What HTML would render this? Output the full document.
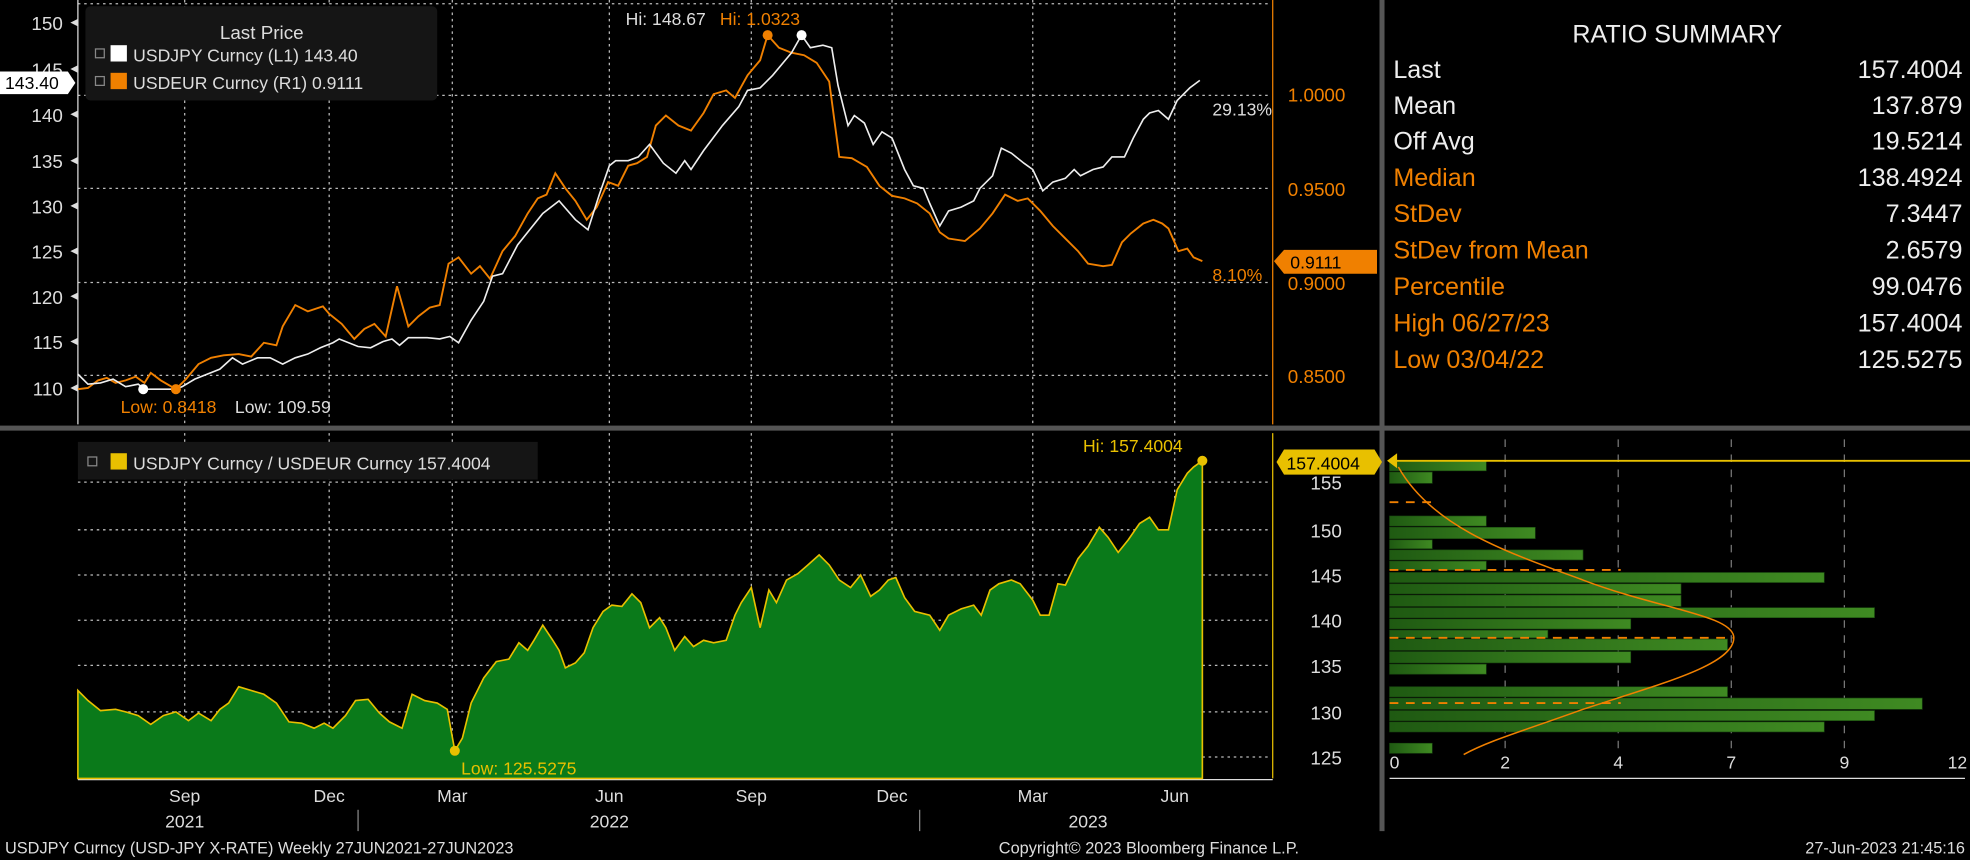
<!DOCTYPE html>
<html><head><meta charset="utf-8"><style>
html,body{margin:0;padding:0;background:#000;overflow:hidden}
svg{display:block}
text{font-family:"Liberation Sans",sans-serif}
</style></head><body>
<svg width="1970" height="860" viewBox="0 0 1568 685" preserveAspectRatio="none" xmlns="http://www.w3.org/2000/svg">
<rect width="1568" height="685" fill="#000"/>
<g stroke="#bbb" stroke-width="1" stroke-dasharray="2,3">
<line x1="62" y1="3" x2="1012" y2="3"/><line x1="62" y1="76" x2="1012" y2="76"/><line x1="62" y1="150" x2="1012" y2="150"/><line x1="62" y1="225" x2="1012" y2="225"/><line x1="62" y1="299" x2="1012" y2="299"/>
<line x1="147" y1="0" x2="147" y2="338"/><line x1="262" y1="0" x2="262" y2="338"/><line x1="360" y1="0" x2="360" y2="338"/><line x1="485" y1="0" x2="485" y2="338"/><line x1="598" y1="0" x2="598" y2="338"/><line x1="710" y1="0" x2="710" y2="338"/><line x1="822" y1="0" x2="822" y2="338"/><line x1="935" y1="0" x2="935" y2="338"/>
<line x1="62" y1="384" x2="1012" y2="384"/><line x1="62" y1="422" x2="1012" y2="422"/><line x1="62" y1="458" x2="1012" y2="458"/><line x1="62" y1="494" x2="1012" y2="494"/><line x1="62" y1="530" x2="1012" y2="530"/><line x1="62" y1="567" x2="1012" y2="567"/><line x1="62" y1="603" x2="1012" y2="603"/>
<line x1="147" y1="345" x2="147" y2="620"/><line x1="262" y1="345" x2="262" y2="620"/><line x1="360" y1="345" x2="360" y2="620"/><line x1="485" y1="345" x2="485" y2="620"/><line x1="598" y1="345" x2="598" y2="620"/><line x1="710" y1="345" x2="710" y2="620"/><line x1="822" y1="345" x2="822" y2="620"/><line x1="935" y1="345" x2="935" y2="620"/>
</g>
<line x1="62" y1="0" x2="62" y2="338" stroke="#ddd"/>
<g fill="#ddd"><polygon points="56,18 62,15 62,21"/><polygon points="56,55 62,52 62,58"/><polygon points="56,91 62,88 62,94"/><polygon points="56,128 62,125 62,131"/><polygon points="56,164 62,161 62,167"/><polygon points="56,200 62,197 62,203"/><polygon points="56,236 62,233 62,239"/><polygon points="56,272 62,269 62,275"/><polygon points="56,309 62,306 62,312"/></g>
<line x1="1013" y1="0" x2="1013" y2="338" stroke="#f08000"/>
<line x1="1013" y1="345" x2="1013" y2="620" stroke="#e8c000"/>
<line x1="62" y1="621" x2="1013" y2="621" stroke="#ddd"/>
<g fill="#ddd" font-size="15" text-anchor="end">
<text x="50" y="24">150</text><text x="50" y="61">145</text><text x="50" y="97">140</text><text x="50" y="134">135</text><text x="50" y="170">130</text><text x="50" y="206">125</text><text x="50" y="242">120</text><text x="50" y="278">115</text><text x="50" y="315">110</text>
</g>
<g fill="#f08000" font-size="15">
<text x="1025" y="81">1.0000</text><text x="1025" y="156">0.9500</text><text x="1025" y="231">0.9000</text><text x="1025" y="305">0.8500</text>
</g>
<g fill="#ddd" font-size="15">
<text x="1043" y="390">155</text><text x="1043" y="428">150</text><text x="1043" y="464">145</text><text x="1043" y="500">140</text><text x="1043" y="536">135</text><text x="1043" y="573">130</text><text x="1043" y="609">125</text>
</g>
<rect x="0" y="339" width="1568" height="4" fill="#555"/>
<rect x="1098" y="0" width="4" height="662" fill="#555"/>
<rect x="68" y="5" width="280" height="75" rx="4" fill="#151515"/>
<text x="175" y="31" fill="#ddd" font-size="15">Last Price</text>
<rect x="76" y="39" width="7" height="7" fill="none" stroke="#888"/><rect x="88" y="36" width="13" height="13" fill="#fff"/>
<text x="106" y="49" fill="#ddd" font-size="14">USDJPY Curncy  (L1)  143.40</text>
<rect x="76" y="61" width="7" height="7" fill="none" stroke="#888"/><rect x="88" y="58" width="13" height="13" fill="#f08000"/>
<text x="106" y="71" fill="#ddd" font-size="14">USDEUR Curncy  (R1)     0.9111</text>
<polyline fill="none" stroke="#f08000" stroke-width="1.5" points="62,310 70,309 78,303 85,301 92,305 100,303 108,300 115,305 120,297 128,303 140,310 148,302 158,290 168,285 178,283 190,282 200,284 210,273 220,275 225,260 235,243 245,248 257,244 262,250 272,258 282,270 290,262 298,258 307,268 316,228 325,260 333,252 342,245 350,243 357,210 365,205 375,218 382,212 390,222 400,200 410,188 420,170 428,158 435,155 442,138 450,150 458,160 467,175 475,165 484,145 492,148 500,132 507,130 515,125 522,100 530,92 540,100 550,104 560,90 568,75 578,72 585,78 595,60 605,48 611,28 620,38 630,42 640,44 650,50 660,65 668,125 678,126 690,133 700,148 710,156 720,158 730,162 740,170 748,185 755,190 768,192 780,182 790,170 800,155 810,160 818,158 828,168 838,180 848,190 858,200 866,210 878,212 885,211 893,193 900,186 910,178 918,175 925,178 930,182 938,200 945,198 950,205 957,208"/>
<polyline fill="none" stroke="#eee" stroke-width="1.3" points="62,298 70,306 80,305 90,302 100,308 110,306 115,310 140,310 145,308 155,302 165,298 175,294 185,285 193,290 205,285 215,285 225,290 235,285 245,282 255,277 265,273 270,270 285,276 295,277 305,272 312,270 318,275 325,269 340,269 350,270 358,268 365,273 375,255 385,240 392,220 400,218 412,195 420,185 432,170 445,160 458,175 468,183 477,155 485,132 490,128 500,128 508,125 517,115 528,130 538,138 545,128 550,135 560,120 575,100 588,85 595,72 605,70 615,60 625,48 630,42 638,28 645,38 655,36 662,38 667,68 675,100 680,92 688,98 695,115 702,105 710,110 720,135 727,148 735,150 740,162 748,180 755,168 765,165 775,160 780,150 790,140 797,118 805,122 815,130 822,135 830,152 838,145 848,142 855,135 860,140 870,135 878,133 885,125 895,125 902,110 910,95 915,90 922,88 930,95 937,80 947,70 955,64"/>
<circle cx="114" cy="310" r="4" fill="#fff"/><circle cx="140" cy="310" r="4" fill="#f08000"/>
<circle cx="611" cy="28" r="4" fill="#f08000"/><circle cx="638" cy="28" r="4" fill="#fff"/>
<text x="96" y="329" fill="#f08000" font-size="14">Low: 0.8418</text><text x="187" y="329" fill="#ddd" font-size="14">Low: 109.59</text>
<text x="498" y="20" fill="#ddd" font-size="14">Hi: 148.67</text><text x="573" y="20" fill="#f08000" font-size="14">Hi: 1.0323</text>
<text x="965" y="92" fill="#ddd" font-size="14">29.13%</text><text x="965" y="224" fill="#f08000" font-size="14">8.10%</text>
<polygon points="0,57 54,57 60,66 54,75 0,75" fill="#fff"/><text x="4" y="71" fill="#000" font-size="14">143.40</text>
<polygon points="1014,208 1022,199 1096,199 1096,218 1022,218" fill="#f08000"/><text x="1027" y="214" fill="#000" font-size="14">0.9111</text>
<rect x="62" y="352" width="366" height="30" fill="#151515"/>
<rect x="70" y="364" width="7" height="7" fill="none" stroke="#888"/><rect x="88" y="361" width="13" height="13" fill="#e8c000"/>
<text x="106" y="374" fill="#ddd" font-size="14">USDJPY Curncy / USDEUR Curncy 157.4004</text>
<polygon fill="#0a7a1a" stroke="#e8c000" stroke-width="1.3" points="62,620 62,550 70,558 80,566 92,565 100,567 110,570 120,577 130,570 140,567 150,574 158,568 168,574 175,565 182,560 190,547 200,550 210,553 220,560 230,575 240,576 250,580 258,576 265,580 275,570 283,558 293,557 302,568 310,575 320,580 328,553 338,558 348,560 356,565 362,598 368,588 375,560 385,540 395,527 405,525 413,512 420,518 425,510 432,498 440,510 445,518 450,532 458,528 465,520 472,500 480,487 487,482 495,483 503,473 510,480 517,500 525,492 530,500 537,518 545,507 552,515 560,510 568,512 578,510 585,490 590,480 598,468 605,500 612,470 618,480 626,462 635,457 643,450 652,442 660,450 668,462 677,468 685,458 693,475 700,470 707,462 713,460 720,476 728,487 740,490 748,502 755,490 765,485 775,482 781,490 788,470 795,465 805,462 812,465 822,478 828,490 835,490 842,465 848,466 858,445 866,435 875,420 882,428 890,440 898,430 907,417 915,412 922,422 930,422 937,390 945,377 950,372 957,367 957,620"/>
<circle cx="362" cy="598" r="4" fill="#e8c000"/><circle cx="957" cy="367" r="4" fill="#e8c000"/>
<text x="367" y="617" fill="#e8c000" font-size="14">Low: 125.5275</text>
<text x="862" y="360" fill="#e8c000" font-size="14">Hi: 157.4004</text>
<polygon points="1016,368 1022,358 1094,358 1100,368 1094,378 1022,378" fill="#e8c000"/><text x="1024" y="374" fill="#000" font-size="14">157.4004</text>
<g fill="#ddd" font-size="14" text-anchor="middle">
<text x="147" y="639">Sep</text><text x="262" y="639">Dec</text><text x="360" y="639">Mar</text><text x="485" y="639">Jun</text><text x="598" y="639">Sep</text><text x="710" y="639">Dec</text><text x="822" y="639">Mar</text><text x="935" y="639">Jun</text>
<text x="147" y="659">2021</text><text x="485" y="659">2022</text><text x="866" y="659">2023</text>
</g>
<line x1="285" y1="645" x2="285" y2="662" stroke="#888"/><line x1="732" y1="645" x2="732" y2="662" stroke="#888"/>
<g fill="#ddd" font-size="13">
<text x="4" y="680">USDJPY Curncy (USD-JPY X-RATE)  Weekly 27JUN2021-27JUN2023</text>
<text x="795" y="680">Copyright© 2023 Bloomberg Finance L.P.</text>
<text x="1564" y="680" text-anchor="end">27-Jun-2023 21:45:16</text>
</g>
<text x="1335" y="34" fill="#eee" font-size="20" text-anchor="middle">RATIO SUMMARY</text>
<g font-size="20">
<text x="1109" y="62" fill="#eee">Last</text><text x="1562" y="62" fill="#eee" text-anchor="end">157.4004</text>
<text x="1109" y="91" fill="#eee">Mean</text><text x="1562" y="91" fill="#eee" text-anchor="end">137.879</text>
<text x="1109" y="119" fill="#eee">Off Avg</text><text x="1562" y="119" fill="#eee" text-anchor="end">19.5214</text>
<text x="1109" y="148" fill="#f08000">Median</text><text x="1562" y="148" fill="#eee" text-anchor="end">138.4924</text>
<text x="1109" y="177" fill="#f08000">StDev</text><text x="1562" y="177" fill="#eee" text-anchor="end">7.3447</text>
<text x="1109" y="206" fill="#f08000">StDev from Mean</text><text x="1562" y="206" fill="#eee" text-anchor="end">2.6579</text>
<text x="1109" y="235" fill="#f08000">Percentile</text><text x="1562" y="235" fill="#eee" text-anchor="end">99.0476</text>
<text x="1109" y="264" fill="#f08000">High 06/27/23</text><text x="1562" y="264" fill="#eee" text-anchor="end">157.4004</text>
<text x="1109" y="293" fill="#f08000">Low 03/04/22</text><text x="1562" y="293" fill="#eee" text-anchor="end">125.5275</text>
</g>
<defs><linearGradient id="g" x1="0" x2="1"><stop offset="0" stop-color="#1f5a12"/><stop offset="1" stop-color="#3f8a22"/></linearGradient></defs>
<g stroke="#777" stroke-dasharray="6,6"><line x1="1198" y1="350" x2="1198" y2="600"/><line x1="1288" y1="350" x2="1288" y2="600"/><line x1="1378" y1="350" x2="1378" y2="600"/><line x1="1468" y1="350" x2="1468" y2="600"/></g>
<g fill="url(#g)" stroke="#1a4a10" stroke-width="0.5">
<rect x="1106" y="367" width="77" height="8"/><rect x="1106" y="376" width="34" height="9"/>
<rect x="1106" y="411" width="77" height="8"/><rect x="1106" y="420" width="116" height="9"/><rect x="1106" y="430" width="34" height="7"/><rect x="1106" y="438" width="154" height="8"/><rect x="1106" y="447" width="77" height="7"/>
<rect x="1106" y="456" width="346" height="8"/><rect x="1106" y="465" width="232" height="8"/><rect x="1106" y="474" width="232" height="9"/><rect x="1106" y="484" width="386" height="8"/><rect x="1106" y="493" width="192" height="8"/><rect x="1106" y="502" width="126" height="6"/><rect x="1106" y="509" width="269" height="9"/><rect x="1106" y="519" width="192" height="9"/><rect x="1106" y="529" width="77" height="8"/>
<rect x="1106" y="547" width="269" height="8"/><rect x="1106" y="556" width="424" height="9"/><rect x="1106" y="566" width="386" height="8"/><rect x="1106" y="575" width="346" height="8"/><rect x="1106" y="592" width="34" height="8"/>
</g>
<g stroke="#f08000" stroke-width="1.5" stroke-dasharray="7,6"><line x1="1106" y1="400" x2="1140" y2="400"/><line x1="1106" y1="454" x2="1290" y2="454"/><line x1="1106" y1="508" x2="1380" y2="508"/><line x1="1106" y1="560" x2="1290" y2="560"/></g>
<path d="M1113,372 C1140,420 1200,440 1260,462 C1320,485 1380,490 1380,508 C1380,530 1320,545 1260,565 C1210,583 1185,590 1165,601" fill="none" stroke="#f08000" stroke-width="1.2"/>
<line x1="1108" y1="367" x2="1568" y2="367" stroke="#e8c000" stroke-width="1.5"/>
<polygon points="1104,367 1112,361 1112,373" fill="#e8c000"/>
<line x1="1106" y1="620" x2="1564" y2="620" stroke="#ddd"/>
<g fill="#ddd" font-size="14" text-anchor="middle">
<text x="1110" y="612">0</text><text x="1198" y="612">2</text><text x="1288" y="612">4</text><text x="1378" y="612">7</text><text x="1468" y="612">9</text><text x="1558" y="612">12</text>
</g>
</svg>
</body></html>
